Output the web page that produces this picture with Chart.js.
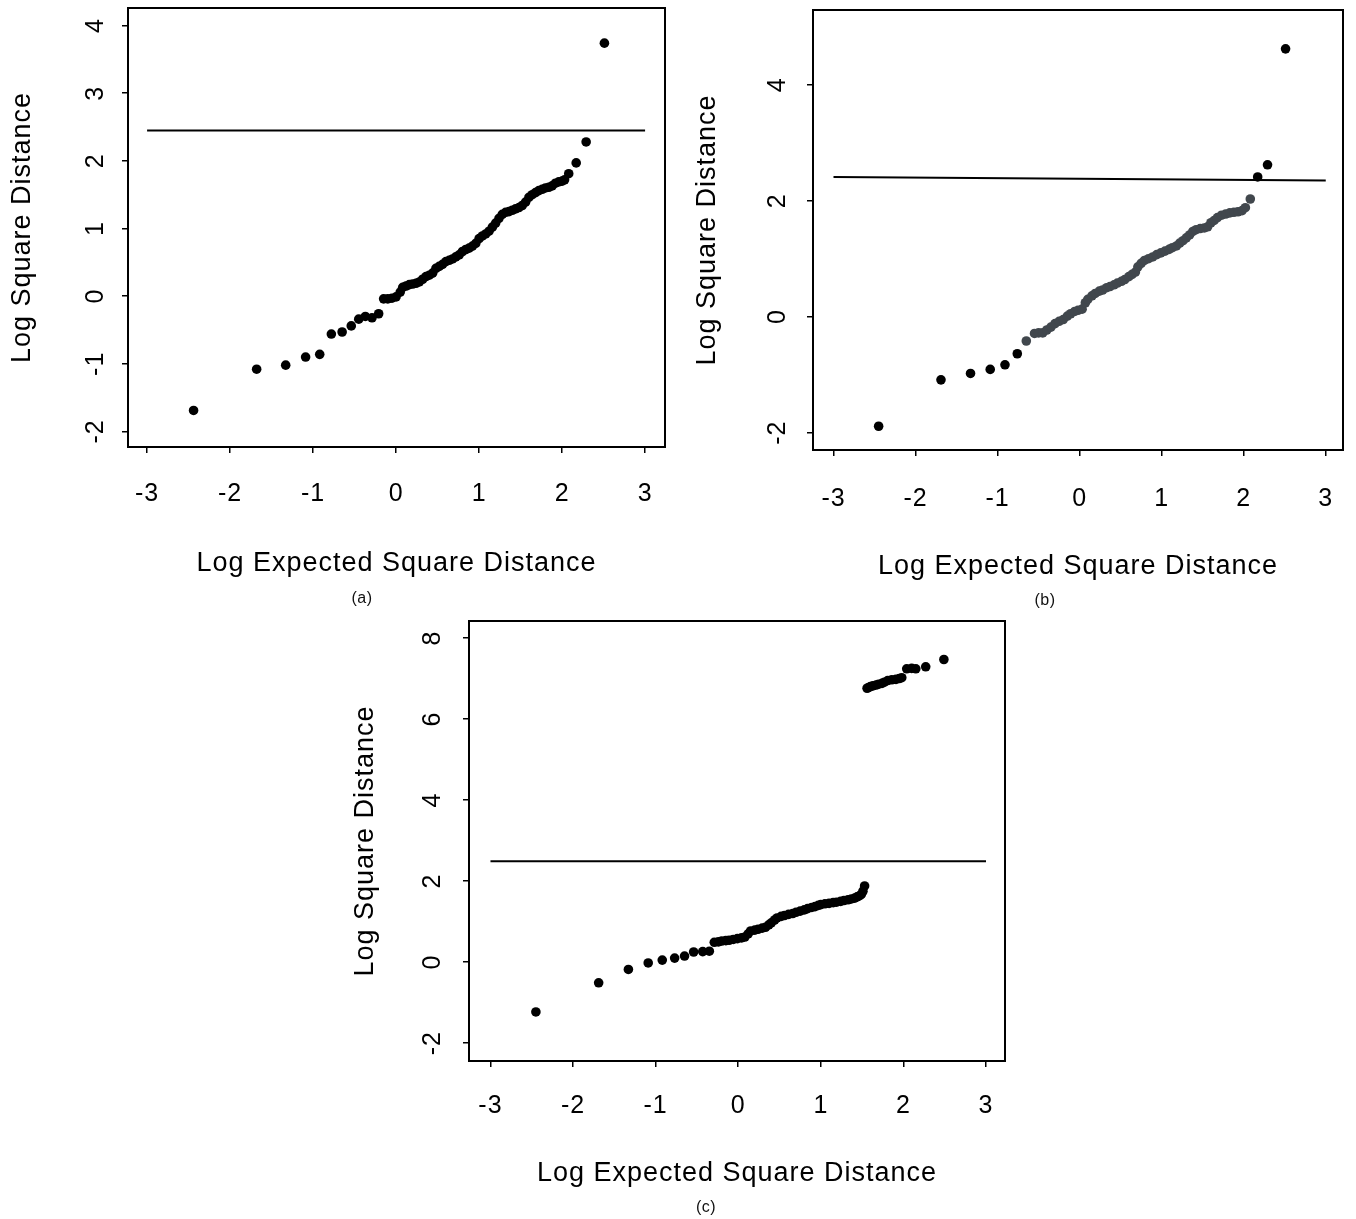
<!DOCTYPE html>
<html><head><meta charset="utf-8">
<script src="https://cdn.jsdelivr.net/npm/chart.js@4.4.1/dist/chart.umd.min.js"></script>
<style>
html,body{margin:0;padding:0;background:#fff;}
body{width:1356px;height:1219px;position:relative;overflow:hidden;font-family:"Liberation Sans",Arial,sans-serif;}
.pane{position:absolute;}
.cap{position:absolute;font-size:16px;color:#111;transform:translate(-50%,-50%);letter-spacing:0.5px;}
</style></head><body>
<div class="pane" style="left:0px;top:0px;width:680px;height:590px"><canvas id="ca"></canvas></div>
<div class="pane" style="left:690px;top:0px;width:666px;height:595px"><canvas id="cb"></canvas></div>
<div class="pane" style="left:340px;top:610px;width:680px;height:600px"><canvas id="cc"></canvas></div>
<div class="cap" style="left:362px;top:598px">(a)</div>
<div class="cap" style="left:1045px;top:600px">(b)</div>
<div class="cap" style="left:706px;top:1207px">(c)</div>
<script>
// ---------- data ----------
const xTickValues = [-3, -2, -1, 0, 1, 2, 3];
const yTicksA = [-2, -1, 0, 1, 2, 3, 4];
const yTicksB = [-2, 0, 2, 4];
const yTicksC = [-2, 0, 2, 4, 6, 8];

const xTitle = "Log Expected Square Distance";
const yTitle = "Log Square Distance";

// panel (a)
const aX = [-2.44,-1.68,-1.33,-1.09,-0.92,-0.78,-0.65,-0.54,-0.45,-0.37,-0.29,-0.21,
  -0.15,-0.10,-0.05,0.00,0.05,0.08,0.12,0.16,0.20,0.24,0.28,0.32,0.36,0.40,0.44,0.48,0.52,0.56,0.60,
  0.64,0.68,0.72,0.76,0.80,0.84,0.88,0.92,0.96,1.00,1.04,1.08,1.12,1.16,1.20,1.24,1.28,1.32,1.36,
  1.40,1.44,1.48,1.52,1.56,1.60,1.64,1.68,1.72,1.76,1.80,1.84,1.88,1.92,1.96,2.00,2.03,2.08,2.17,2.29,2.51];
const aY = [-1.69,-1.08,-1.02,-0.90,-0.86,-0.56,-0.53,-0.44,-0.34,-0.30,-0.32,-0.26,
  -0.04,-0.04,-0.03,-0.01,0.06,0.13,0.15,0.17,0.18,0.19,0.21,0.25,0.29,0.31,0.34,0.41,0.44,0.47,0.51,
  0.53,0.55,0.58,0.61,0.66,0.69,0.71,0.74,0.78,0.85,0.89,0.92,0.96,1.02,1.08,1.15,1.21,1.24,1.25,
  1.27,1.29,1.31,1.34,1.39,1.46,1.50,1.53,1.56,1.58,1.60,1.61,1.63,1.67,1.69,1.70,1.72,1.81,1.97,2.28,3.74];
const aCutX = [-3, 3];
const aCutY = [2.45, 2.45];

// panel (b): outer points (black) and inner points (grey)
const bBlackX = [-2.45,-1.69,-1.33,-1.09,-0.91,-0.76,2.17,2.29,2.51];
const bBlackY = [-1.89,-1.09,-0.98,-0.91,-0.83,-0.64,2.41,2.62,4.62];
const bGreyX = [-0.65,-0.55,-0.50,-0.45,-0.40,-0.35,-0.30,-0.25,-0.20,-0.15,-0.11,-0.06,-0.02,0.03,0.07,
  0.10,0.15,0.19,0.24,0.28,0.33,0.37,0.42,0.46,0.51,0.55,0.60,0.64,0.68,0.71,0.75,0.79,0.84,0.89,0.94,
  0.99,1.04,1.09,1.13,1.18,1.22,1.26,1.30,1.34,1.38,1.42,1.47,1.52,1.56,1.60,1.64,1.68,1.73,1.78,1.83,
  1.88,1.93,1.98,2.02,2.08];
const bGreyY = [-0.42,-0.29,-0.28,-0.28,-0.23,-0.18,-0.12,-0.08,-0.05,0.01,0.05,0.09,0.11,0.13,0.24,
  0.30,0.36,0.40,0.44,0.46,0.50,0.52,0.55,0.58,0.61,0.64,0.69,0.73,0.77,0.86,0.92,0.97,1.00,1.03,1.07,
  1.10,1.13,1.16,1.19,1.22,1.27,1.31,1.36,1.41,1.47,1.50,1.52,1.53,1.55,1.62,1.66,1.71,1.75,1.77,1.79,
  1.80,1.81,1.83,1.88,2.03];
const bCutX = [-3, 3];
const bCutY = [2.41, 2.35];

// panel (c)
const cX = [-2.45,-1.69,-1.33,-1.09,-0.92,-0.77,-0.65,-0.54,-0.43,-0.35,-0.29,-0.24,-0.20,-0.15,-0.11,
  -0.06,-0.01,0.04,0.08,0.12,0.15,0.20,0.24,0.29,0.33,0.37,0.40,0.44,0.47,0.52,0.56,0.61,0.66,0.70,0.75,
  0.80,0.84,0.89,0.93,0.97,1.00,1.05,1.10,1.15,1.19,1.24,1.28,1.33,1.37,1.41,1.44,1.47,1.49,1.51,1.53,
  1.56,1.58,1.60,1.63,1.67,1.70,1.74,1.77,1.81,1.86,1.91,1.95,1.98,2.04,2.10,2.15,2.27,2.49];
const cY = [-1.23,-0.51,-0.18,-0.02,0.05,0.10,0.15,0.25,0.26,0.27,0.49,0.50,0.52,0.53,0.54,
  0.56,0.58,0.60,0.62,0.70,0.77,0.79,0.81,0.84,0.86,0.92,0.97,1.04,1.09,1.13,1.15,1.18,1.20,1.23,1.26,
  1.29,1.32,1.35,1.37,1.40,1.42,1.44,1.45,1.47,1.48,1.50,1.52,1.54,1.56,1.58,1.61,1.64,1.67,1.75,1.88,
  6.76,6.78,6.80,6.82,6.84,6.86,6.88,6.91,6.95,6.97,6.98,7.00,7.02,7.24,7.25,7.24,7.29,7.47];
const cCutX = [-3, 3];
const cCutY = [2.49, 2.49];

// ---------- helpers ----------
const FONT = "'Liberation Sans', Arial, Helvetica, sans-serif";
const pts = (xs, ys) => xs.map((x, i) => ({x: x, y: ys[i]}));

const boxPlugin = {
  id: 'frameBox',
  beforeLayout(chart) { chart.ctx.letterSpacing = '1px'; },
  beforeDraw(chart) { chart.ctx.letterSpacing = '1px'; },
  afterDraw(chart) {
    const {ctx, chartArea: a} = chart;
    ctx.save();
    ctx.strokeStyle = '#000';
    ctx.lineWidth = 2;
    ctx.strokeRect(a.left, a.top, a.right - a.left, a.bottom - a.top);
    ctx.restore();
  }
};

function makePanel(id, geo, datasets, yTicks, range) {
  return new Chart(document.getElementById(id), {
    type: 'scatter',
    data: {datasets: datasets},
    plugins: [boxPlugin],
    options: {
      responsive: true,
      maintainAspectRatio: false,
      animation: false,
      events: [],
      layout: {padding: {left: 0, top: geo.top, right: geo.right, bottom: 0}},
      plugins: {legend: {display: false}, tooltip: {enabled: false}},
      scales: {
        x: {
          type: 'linear', position: 'bottom',
          min: range.xMin, max: range.xMax,
          afterBuildTicks: s => { s.ticks = xTickValues.map(v => ({value: v})); },
          afterFit: s => { s.height = geo.xH; s.paddingLeft = 0; s.paddingRight = 0; },
          border: {display: false},
          grid: {display: true, drawOnChartArea: false, drawTicks: true, tickLength: 6, color: '#000', lineWidth: 1.5},
          ticks: {color: '#000', font: {family: FONT, size: 25}, padding: geo.xTickPad, maxRotation: 0, autoSkip: false},
          title: {display: true, text: xTitle, color: '#000', font: {family: FONT, size: 27}, padding: {top: 0, bottom: geo.xTitlePad}}
        },
        y: {
          type: 'linear', position: 'left',
          min: range.yMin, max: range.yMax,
          afterBuildTicks: s => { s.ticks = yTicks.map(v => ({value: v})); },
          afterFit: s => { s.width = geo.yW; s.paddingTop = 0; s.paddingBottom = 0; },
          border: {display: false},
          grid: {display: true, drawOnChartArea: false, drawTicks: true, tickLength: 6, color: '#000', lineWidth: 1.5},
          ticks: {color: '#000', font: {family: FONT, size: 25}, padding: geo.yTickPad, minRotation: 90, maxRotation: 90, crossAlign: 'center', autoSkip: false},
          title: {display: true, text: yTitle, color: '#000', font: {family: FONT, size: 27}, padding: {top: geo.yTitlePad, bottom: 0}}
        }
      }
    }
  });
}

const dot = (data, color) => ({data: data, pointRadius: 4.8, pointBackgroundColor: color, pointBorderWidth: 0, pointBorderColor: color, showLine: false});
const cut = (data) => ({data: data, showLine: true, borderColor: '#000', borderWidth: 2, pointRadius: 0, fill: false});

makePanel('ca', {top: 8, right: 15, xH: 143, yW: 128, xTickPad: 26, xTitlePad: 10, yTickPad: 14, yTitlePad: 6},
  [cut(pts(aCutX, aCutY)), dot(pts(aX, aY), '#000')], yTicksA,
  {xMin: -3.23, xMax: 3.24, yMin: -2.23, yMax: 4.26});

makePanel('cb', {top: 10, right: 13, xH: 145, yW: 123, xTickPad: 28, xTitlePad: 12, yTickPad: 17, yTitlePad: 1},
  [cut(pts(bCutX, bCutY)), dot(pts(bGreyX, bGreyY), '#41474d'), dot(pts(bBlackX, bBlackY), '#000')], yTicksB,
  {xMin: -3.25, xMax: 3.21, yMin: -2.30, yMax: 5.29});

makePanel('cc', {top: 11, right: 15, xH: 149, yW: 129, xTickPad: 24, xTitlePad: 20, yTickPad: 18, yTitlePad: 9},
  [cut(pts(cCutX, cCutY)), dot(pts(cX, cY), '#000')], yTicksC,
  {xMin: -3.26, xMax: 3.23, yMin: -2.44, yMax: 8.42});
</script>
</body></html>
